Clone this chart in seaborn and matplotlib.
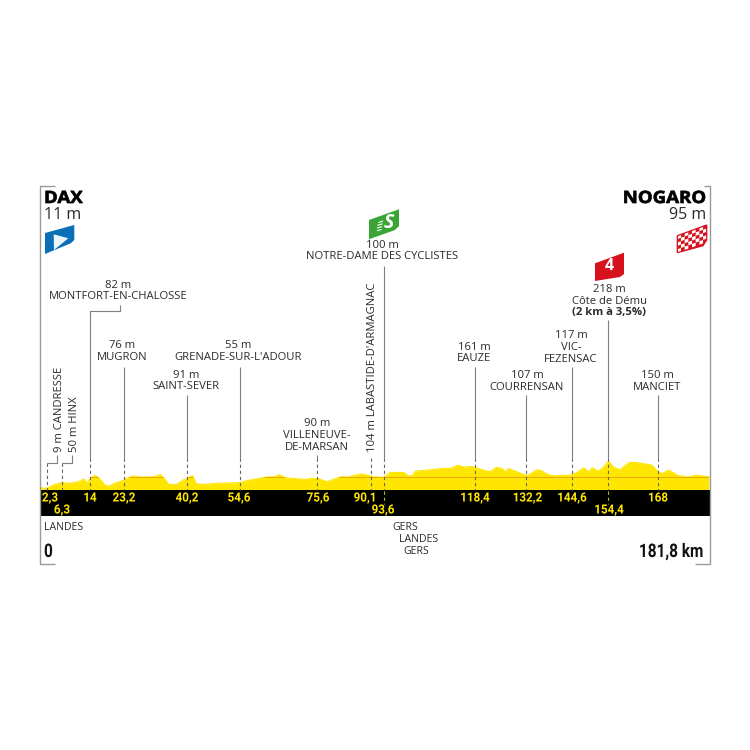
import matplotlib
matplotlib.use('Agg')
import matplotlib.pyplot as plt
import matplotlib.patheffects as pe
from matplotlib.patches import Polygon
from matplotlib.transforms import Affine2D
import seaborn as sns

# elevation profile
profile_km = [0.4, 2.2, 4, 6.2, 8.9, 10.75, 12.4, 13.1, 14.2, 15.3, 16.4, 18, 19.1, 21.1, 23, 23.9, 25.7, 27.9, 31.5,
              33.1, 34.3, 35.3, 37.4, 39.7, 41.8, 42.8, 45.2, 47.9, 54.2, 56.9, 58.7, 61.9, 64.2, 65.2, 66.9, 72.3,
              74.1, 75.9, 78.2, 80, 82.2, 84, 85.9, 87.7, 89.9, 90.45, 93.6, 95.4, 99, 100.2, 101.3, 102.2, 106.3,
              109.4, 111.7, 113.8, 115.3, 117.6, 120.3, 122.5, 124.1, 125.7, 126.6, 127.5, 130.2, 132.5, 135.2,
              136.5, 137.9, 140.1, 144.2, 146, 147.8, 149.2, 150.2, 151.7, 152.8, 154.6, 155.9, 157.7, 160.2, 162.3,
              166.3, 167.7, 169, 170.9, 173.6, 176.3, 178.3, 181.8]
profile_alt = [17, 12, 37, 55, 52, 62, 82, 50, 92, 110, 92, 37, 30, 55, 72, 87, 105, 97, 100,
               117, 82, 42, 42, 82, 107, 47, 42, 50, 55, 72, 82, 97, 100, 117, 92, 80,
               87, 87, 62, 80, 100, 97, 112, 120, 107, 100, 95, 132, 132, 107, 107, 142, 152,
               162, 162, 187, 172, 177, 152, 137, 170, 162, 137, 162, 132, 107, 152,
               145, 117, 107, 112, 132, 167, 137, 167, 142, 162, 217, 172, 152, 207, 207,
               187, 147, 122, 150, 107, 97, 112, 100]

# points along the route
point_km = [2.3, 6.3, 14, 23.2, 40.2, 54.6, 75.6, 90.1, 93.6, 118.4, 132.2, 144.6, 154.4, 168]
point_km_text = ['2,3', '6,3', '14', '23,2', '40,2', '54,6', '75,6', '90,1', '93,6', '118,4', '132,2', '144,6',
                 '154,4', '168']
point_text = [None, None,
              ['82 m', 'MONTFORT-EN-CHALOSSE'],
              ['76 m', 'MUGRON'],
              ['91 m', 'SAINT-SEVER'],
              ['55 m', "GRENADE-SUR-L'ADOUR"],
              ['90 m', 'VILLENEUVE-', 'DE-MARSAN'],
              None,
              ['100 m', 'NOTRE-DAME DES CYCLISTES'],
              ['161 m', 'EAUZE'],
              ['107 m', 'COURRENSAN'],
              ['117 m', 'VIC-', 'FEZENSAC'],
              ['218 m', 'Côte de Dému'],
              ['150 m', 'MANCIET']]
climb_detail = '(2 km à 3,5%)'
side_text = ['9 m CANDRESSE', '50 m HINX', "104 m LABASTIDE-D'ARMAGNAC"]
start_name, start_alt, finish_name, finish_alt = 'DAX', '11 m', 'NOGARO', '95 m'
dept_text = ['LANDES', 'GERS', 'LANDES', 'GERS']
total_km = 181.8
start_km_text, total_km_text = '0', '181,8 km'

# picture layout, in pixels of the 750x750 image
px_per_km = 3.688
x0_px = 38.4
px_per_m = 0.133
base_px = 490
W = 750

sns.set_theme(style='white')
plt.rcParams['font.family'] = ['Open Sans', 'DejaVu Sans']

fig = plt.figure(figsize=(7.5, 7.5), dpi=100)
ax = fig.add_axes([0, 0, 1, 1])
ax.set_xlim(-x0_px/px_per_km, (W-x0_px)/px_per_km)
ax.set_ylim((base_px-W)/px_per_m, base_px/px_per_m)
ax.axis('off')


class Stretch(pe.AbstractPathEffect):
    # no condensed or extra bold font here, so scale the glyphs around the anchor
    def __init__(self, anchor_px, sx, stroke=0):
        super().__init__()
        self.anchor_px, self.sx, self.stroke = anchor_px, sx, stroke

    def draw_path(self, renderer, gc, tpath, affine, rgbFace=None):
        tr = affine+Affine2D().translate(-self.anchor_px, 0).scale(self.sx, 1).translate(self.anchor_px, 0)
        gc0 = renderer.new_gc()
        gc0.copy_properties(gc)
        if self.stroke:
            gc0.set_linewidth(self.stroke)
            gc0.set_foreground(rgbFace)
        renderer.draw_path(gc0, tpath, tr, rgbFace)
        gc0.restore()


def X(px):
    return (px-x0_px)/px_per_km


def Y(py):
    return (base_px-py)/px_per_m


def km_px(km):
    return x0_px+km*px_per_km


def line_px(xs, ys, color='#7f7f7f', lw=0.8, **kw):
    ax.plot([X(x) for x in xs], [Y(y) for y in ys], color=color, lw=lw, solid_capstyle='butt', **kw)


def text_px(x, y, s, size=8.15, ha='center', va='center', **kw):
    kw.setdefault('color', '#2b2b2b')
    return ax.text(X(x), Y(y), s, fontsize=size, ha=ha, va=va, **kw)


def poly_px(pts, color, zorder=5):
    p = Polygon([(X(x), Y(y)) for x, y in pts], closed=True, facecolor=color, edgecolor='none', zorder=zorder)
    ax.add_patch(p)
    return p


# profile
yellow = '#ffe600'
fill = ax.fill_between(profile_km, 0, profile_alt, color=yellow, lw=0, zorder=2)
sns.lineplot(x=profile_km, y=profile_alt, ax=ax, color=yellow, lw=0.8, zorder=2, sort=False, estimator=None, legend=False)
ref_line, = ax.plot([0.4, total_km], [100, 100], color='#f0a800', lw=0.7, zorder=3)
ref_line.set_clip_path(fill.get_paths()[0], fill.get_transform())

# black km band
ax.fill_between([X(40), X(710)], Y(516), 0, color='black', lw=0, zorder=2)

# frame
line_px([55, 40, 40, 55], [186, 186, 564, 564], color='#9a9a9a', lw=1.0)
line_px([704, 710, 710, 695], [186, 186, 564, 564], color='#9a9a9a', lw=1.0)

# leaders
solid_top = [None, None, 305, 367, 395, 367, 455, None, 266, 367, 395, 367, 320, 395]
for km, top in zip(point_km, solid_top):
    x = km_px(km)
    if top is None:
        continue
    if km == 14:
        line_px([120, 120, x, x], [305, 311, 311, 458])
    else:
        line_px([x, x], [top, 458])
for km in point_km:
    x = km_px(km)
    low = 504 if km in (93.6, 154.4) else 490
    top = 463 if km < 10 else 458
    line_px([x, x], [top, min(low, 490)], color='#666666', lw=0.8, ls=(0, (3, 2.5)), zorder=4)
    if low > 490:
        line_px([x, x], [491, low], color='#c9b800', lw=0.8, ls=(0, (3, 2.5)), zorder=4)
line_px([km_px(2.3), 57, 57], [463, 463, 455])
line_px([km_px(6.3), 71.5, 71.5], [463, 463, 455])

# km labels
km_center = [50, 62, 90, 124, 187, 239, 318, 365, 383, 475, 527.5, 572, 609, 658]
km_row = [498, 510, 498, 498, 498, 498, 498, 498, 510, 498, 498, 498, 510, 498]
for s, x, y in zip(point_km_text, km_center, km_row):
    t = ax.text(X(x), Y(y), s, fontsize=9.1, ha='center', va='center', color=yellow, fontweight='bold',
                family='Roboto', zorder=6)
    t.set_path_effects([Stretch(x, 0.92)])

# place labels
label_x = [None, None, 118, 122, 186, 238, 317, None, 382, 474, 527, 571, 609, 657]
label_y = [None, None, 285, 346, 375, 346, 424, None, 245, 347, 376, 336, 290, 376]
for lines, x, y in zip(point_text, label_x, label_y):
    if lines is None:
        continue
    for i, s in enumerate(lines):
        text_px(x, y+i*11.7, s)
text_px(609, 312.5, climb_detail, fontweight='bold')

side_x = [59, 74.5, 372.5]
side_bottom = [452, 452, 452]
for s, x, y in zip(side_text, side_x, side_bottom):
    text_px(x, y, s, rotation=90, va='bottom')

# start and finish
t = text_px(44, 203, start_name, size=12.2, ha='left', va='baseline', fontweight='bold', color='black')
t.set_path_effects([Stretch(44, 1.1, stroke=0.5)])
text_px(44, 219, start_alt, size=11.5, ha='left', va='baseline')
t = text_px(706, 203, finish_name, size=12.2, ha='right', va='baseline', fontweight='bold', color='black')
t.set_path_effects([Stretch(706, 1.1, stroke=0.5)])
text_px(706, 219, finish_alt, size=11.5, ha='right', va='baseline')

# departments
dept_x = [63.5, 405, 419, 416]
dept_y = [527, 527, 539.5, 552]
for s, x, y in zip(dept_text, dept_x, dept_y):
    text_px(x, y, s, size=7.6)

t = ax.text(X(44), Y(557), start_km_text, fontsize=13.5, ha='left', va='baseline', fontweight='bold', family='Roboto',
            color='#111111')
t.set_path_effects([Stretch(44, 0.82)])
t = ax.text(X(703), Y(557), total_km_text, fontsize=13.5, ha='right', va='baseline', fontweight='bold', family='Roboto',
            color='#111111')
t.set_path_effects([Stretch(703, 0.82)])

# start flag
poly_px([(45, 233), (74.3, 225), (74.3, 240), (70.7, 243.3), (45, 254)], '#0b6fb8')
poly_px([(53.7, 234.3), (68.3, 238.3), (54, 250)], '#eaf4fb', zorder=6)

# sprint flag
poly_px([(369, 220), (399, 209.3), (399, 226), (395, 230), (369, 239.3)], '#3aa535')
text_px(388.5, 222.5, 'S', size=14, color='white', fontweight='bold', style='italic', zorder=7)
for i, (a, b) in enumerate([(378.5, 383), (377.5, 382.5), (377, 382), (377, 381.5)]):
    line_px([a, b], [222.5+i*2.8, 221+i*2.8], color='white', lw=0.8, zorder=7)

# climb flag
poly_px([(595, 263.3), (624, 252.7), (624, 274), (620, 277), (595, 281)], '#d6121f')
text_px(609.5, 266.5, '4', size=11.5, color='white', fontweight='bold', zorder=7)

# finish flag, red with white checks
flag_pts = [(677.3, 235.7), (706.7, 225), (706.7, 240), (703, 245.7), (677.3, 252.7)]
clip = poly_px(flag_pts, '#d6121f')
n, m = 8, 5
dx = 29.4/n
dy = 17/m
slope = -10.7/29.4
for i in range(n):
    for j in range(m):
        if (i+j) % 2:
            continue
        x = 677.3+i*dx
        y = 235.7+i*dx*slope+j*dy
        sq = poly_px([(x, y), (x+dx, y+dx*slope), (x+dx, y+dx*slope+dy), (x, y+dy)], 'white', zorder=6)
        sq.set_clip_path(clip)
ax.add_patch(Polygon([(X(x), Y(y)) for x, y in flag_pts], closed=True, facecolor='none', edgecolor='#d6121f',
                     lw=0.9, zorder=7))

fig.savefig('out.png', dpi=100)
